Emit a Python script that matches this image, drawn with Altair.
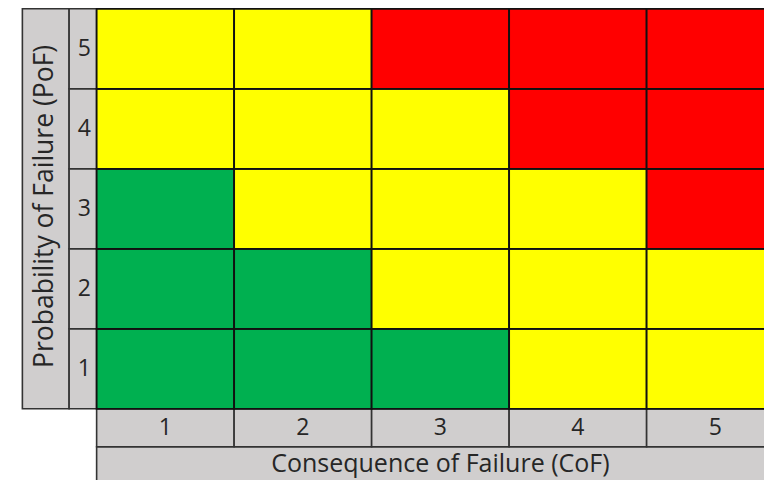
import altair as alt
import pandas as pd

# ---- data ----
cof_values = [1, 2, 3, 4, 5]            # Consequence of Failure categories (x)
pof_values = [1, 2, 3, 4, 5]            # Probability of Failure categories (y)
# risk level for each PoF row, across CoF 1..5
risk_pof1 = ["Low", "Low", "Low", "Medium", "Medium"]
risk_pof2 = ["Low", "Low", "Medium", "Medium", "Medium"]
risk_pof3 = ["Low", "Medium", "Medium", "Medium", "High"]
risk_pof4 = ["Medium", "Medium", "Medium", "High", "High"]
risk_pof5 = ["Medium", "Medium", "High", "High", "High"]
risk_levels = ["Low", "Medium", "High"]
risk_colors = ["#00B050", "#FFFF00", "#FF0000"]
x_title = "Consequence of Failure (CoF)"
y_title = "Probability of Failure (PoF)"

risk_rows = [risk_pof1, risk_pof2, risk_pof3, risk_pof4, risk_pof5]

# ---- tables ----
cells = pd.DataFrame([
    {"cof": c, "pof": p, "x0": c - 0.5, "x1": c + 0.5, "y0": p - 0.5, "y1": p + 0.5,
     "risk": risk_rows[i][j]}
    for i, p in enumerate(pof_values) for j, c in enumerate(cof_values)
])

ytick_cells = pd.DataFrame([
    {"x0": 0.3, "x1": 0.5, "y0": p - 0.5, "y1": p + 0.5, "xc": 0.41, "yc": p, "label": str(p)}
    for p in pof_values
])
xtick_cells = pd.DataFrame([
    {"x0": c - 0.5, "x1": c + 0.5, "y0": 0.025, "y1": 0.5, "xc": c, "yc": 0.262, "label": str(c)}
    for c in cof_values
])
title_bands = pd.DataFrame([
    {"x0": -0.04, "x1": 0.3, "y0": 0.5, "y1": 5.5},
    {"x0": 0.5, "x1": 5.5, "y0": -1.0, "y1": 0.025},
])
titles = pd.DataFrame([
    {"xc": 3.0, "yc": -0.19, "label": x_title, "angle": 0},
    {"xc": 0.125, "yc": 3.03, "label": y_title, "angle": 270},
])

# view: page x 21..764, page y 8..480 (fits the 772x488 window with its 8px margin)
xs = alt.Scale(domain=[-0.05, 5.3536], nice=False, zero=False)
ys = alt.Scale(domain=[-0.39, 5.51], nice=False, zero=False)
FONT = "Open Sans"
TXT = "#262626"
GRAY = "#D0CECE"

def rect_enc():
    return dict(
        x=alt.X("x0:Q", scale=xs, axis=None),
        x2="x1:Q",
        y=alt.Y("y0:Q", scale=ys, axis=None),
        y2="y1:Q",
    )

grid = alt.Chart(cells).mark_rect(stroke="#111111", strokeWidth=1.8, clip=True).encode(
    color=alt.Color("risk:N", scale=alt.Scale(domain=risk_levels, range=risk_colors), legend=None),
    **rect_enc(),
)

bands = alt.Chart(title_bands).mark_rect(fill=GRAY, stroke="#333333", strokeWidth=1.6, clip=True).encode(**rect_enc())
ybands = alt.Chart(ytick_cells).mark_rect(fill=GRAY, stroke="#333333", strokeWidth=1.6, clip=True).encode(**rect_enc())
xbands = alt.Chart(xtick_cells).mark_rect(fill=GRAY, stroke="#333333", strokeWidth=1.6, clip=True).encode(**rect_enc())

def label_layer(df, size):
    return alt.Chart(df).mark_text(font=FONT, fontSize=size, color=TXT, align="center",
                                   baseline="middle").encode(
        x=alt.X("xc:Q", scale=xs, axis=None),
        y=alt.Y("yc:Q", scale=ys, axis=None),
        text="label:N",
    )

ylabels = label_layer(ytick_cells, 23)
xlabels = label_layer(xtick_cells, 23)
xtitle = alt.Chart(titles).transform_filter("datum.angle == 0").mark_text(
    font=FONT, fontSize=25, color=TXT, align="center", baseline="middle").encode(
    x=alt.X("xc:Q", scale=xs, axis=None), y=alt.Y("yc:Q", scale=ys, axis=None), text="label:N")
ytitle = alt.Chart(titles).transform_filter("datum.angle == 270").mark_text(
    font=FONT, fontSize=26.5, color=TXT, align="center", baseline="middle", angle=270).encode(
    x=alt.X("xc:Q", scale=xs, axis=None), y=alt.Y("yc:Q", scale=ys, axis=None), text="label:N")

chart = alt.layer(bands, ybands, xbands, grid, ylabels, xlabels, xtitle, ytitle).properties(
    width=743, height=472,
    padding={"left": 13, "top": 0, "right": 0, "bottom": 0},
    autosize="none",
    background="white",
).configure_view(stroke=None)

chart.save("out.html", embed_options={"renderer": "svg", "actions": False})
